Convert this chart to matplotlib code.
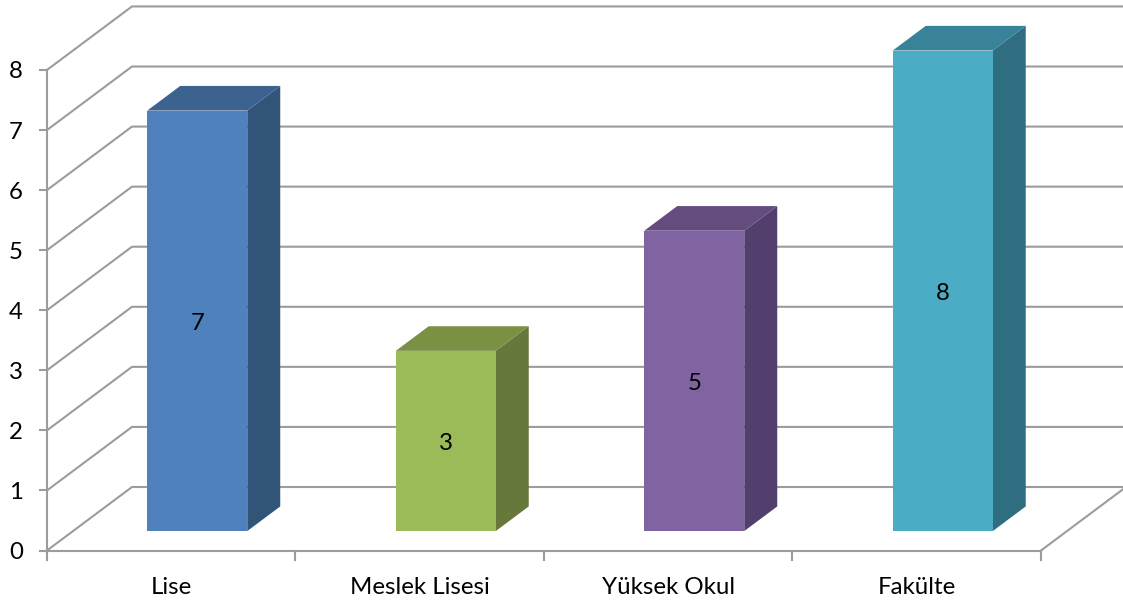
import matplotlib
matplotlib.use('Agg')
from matplotlib import pyplot as plt
from matplotlib.patches import Polygon

categories = ['Lise', 'Meslek Lisesi', 'Yüksek Okul', 'Fakülte']
values = [7, 3, 5, 8]
y_ticks = [0, 1, 2, 3, 4, 5, 6, 7, 8]

front_colors = ['#4F81BD', '#9BBB59', '#8064A2', '#4BACC6']
side_colors = ['#325479', '#66783A', '#533F6D', '#2F6D80']
top_colors = ['#3C6390', '#7A9144', '#644D7E', '#38839A']

plt.rcParams['font.family'] = ['Lato', 'DejaVu Sans']

# depth of the floor, in category and value units
DX = 85 / 248.5
DY = 63.5 / 60.07
GRID = '#9C9C9C'
FS = 17.3


def proj(x, y, d=0.0):
    # simple oblique projection, d=0 is the front and d=1 the back wall
    return x + d * DX, y + d * DY


fig = plt.figure(figsize=(11.23, 6.05), dpi=100)
ax = fig.add_axes([0, 0, 1, 1])
# one category is 248.5 px wide, one unit of value is 60.07 px high
ax.set_xlim(-47 / 248.5, (1123 - 47) / 248.5)
ax.set_ylim(-(605 - 550.5) / 60.07, 550.5 / 60.07)
ax.axis('off')

n = len(categories)

# walls
for v in y_ticks:
    x0, y0 = proj(0, v)
    x1, y1 = proj(0, v, 1)
    x2, y2 = proj(n, v, 1)
    ax.plot([x0, x1, x2], [y0, y1, y2], color=GRID, lw=1.5, zorder=1,
            solid_joinstyle='miter')

# floor edges and axis lines
ax.plot([0, 0], [0, y_ticks[-1]], color=GRID, lw=1.5, zorder=1)
ax.plot([0, n], [0, 0], color=GRID, lw=1.5, zorder=1)
ax.plot(*zip(proj(n, 0), proj(n, 0, 1)), color=GRID, lw=1.5, zorder=1)

# ticks
for v in y_ticks:
    ax.plot([-7 / 248.5, 0], [v, v], color=GRID, lw=1.5, zorder=1)
    ax.text(-31 / 248.5, v - 2 / 60.07, str(v), ha='center', va='center', fontsize=FS,
            color='black')
for i in range(n + 1):
    ax.plot([i, i], [0, -9 / 60.07], color=GRID, lw=1.5, zorder=1)

# bars
bar_w = 100 / 248.5
d0, d1 = 0.306, 0.694
for i, (val, fc, sc, tc) in enumerate(zip(values, front_colors, side_colors, top_colors)):
    left = i + 0.5 - bar_w / 2
    right = i + 0.5 + bar_w / 2
    front = [proj(left, 0, d0), proj(right, 0, d0), proj(right, val, d0), proj(left, val, d0)]
    side = [proj(right, 0, d0), proj(right, 0, d1), proj(right, val, d1), proj(right, val, d0)]
    top = [proj(left, val, d0), proj(right, val, d0), proj(right, val, d1), proj(left, val, d1)]
    ax.add_patch(Polygon(side, closed=True, facecolor=sc, edgecolor='none', zorder=2))
    ax.add_patch(Polygon(top, closed=True, facecolor=tc, edgecolor='none', zorder=2))
    ax.add_patch(Polygon(front, closed=True, facecolor=fc, edgecolor='none', zorder=3))
    lx, ly = proj(i + 0.5, val / 2, d0)
    ax.text(lx, ly - 3 / 60.07, str(val), ha='center', va='center', fontsize=FS,
            color='black', zorder=4)

# category labels
for i, name in enumerate(categories):
    ax.text(i + 0.5, -37 / 60.07, name, ha='center', va='center', fontsize=FS,
            color='black')

fig.savefig('out.png', dpi=100)
